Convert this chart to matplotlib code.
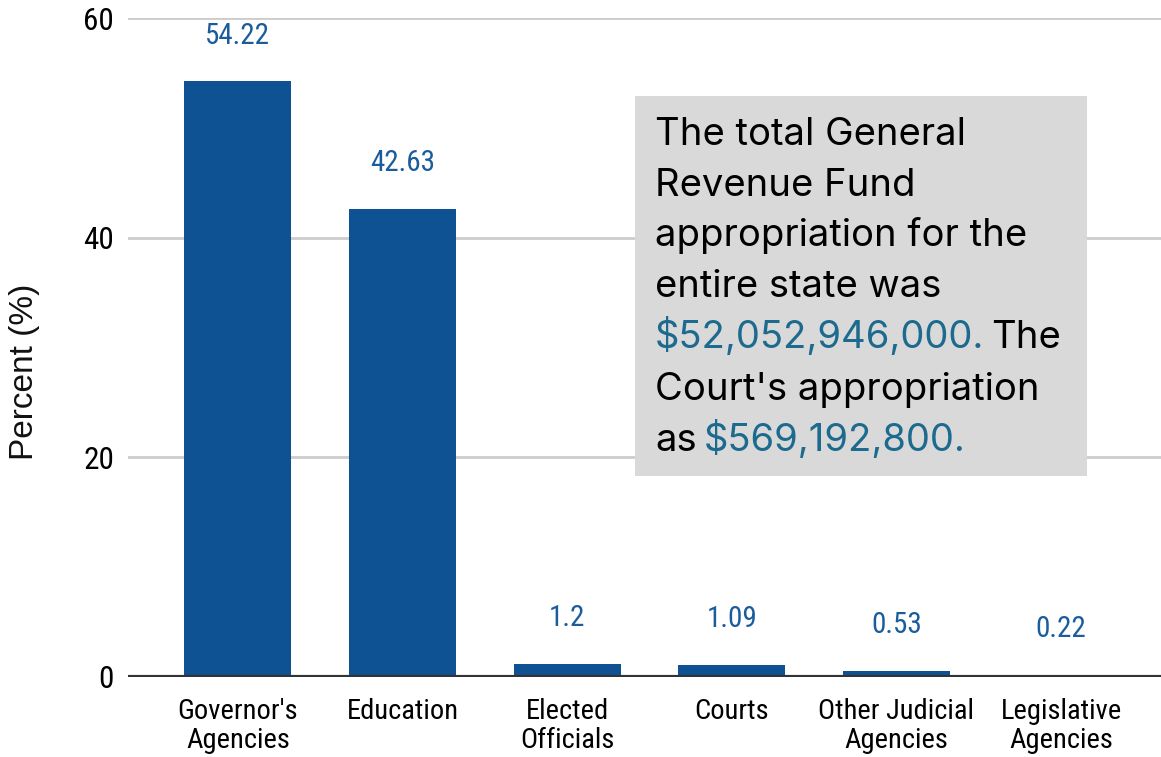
import matplotlib
matplotlib.use("Agg")
import matplotlib.pyplot as plt
from matplotlib.patches import Rectangle
from matplotlib import font_manager

categories = ["Governor's\nAgencies", "Education", "Elected\nOfficials", "Courts",
              "Other Judicial\nAgencies", "Legislative\nAgencies"]
values = [54.22, 42.63, 1.2, 1.09, 0.53, 0.22]
value_labels = ["54.22", "42.63", "1.2", "1.09", "0.53", "0.22"]
yticks = [0, 20, 40, 60]

names = {f.name for f in font_manager.fontManager.ttflist}
narrow = [n for n in ["Roboto Condensed", "Liberation Sans Narrow", "Arial Narrow"] if n in names] + ["Roboto"]
narrow = narrow[:1]

W, H = 1161, 757
fig = plt.figure(figsize=(W / 100, H / 100), dpi=100)
ax = fig.add_axes([128 / W, 1 - 677 / H, 1 - 128 / W, (677 - 18) / H])

bar_color = "#0e5293"
label_color = "#1a5c9c"
x = list(range(len(categories)))
ax.bar(x, values, width=0.65, color=bar_color, zorder=2)
for xi, v, s in zip(x, values, value_labels):
    ax.annotate(s, xy=(xi, v), xytext=(0, 23), textcoords="offset points",
                ha="center", va="bottom", color=label_color, fontsize=21,
                family=narrow)

ax.set_xlim(-0.668, 5.607)
ax.set_ylim(0, 60)
ax.set_yticks(yticks)
ax.set_yticklabels([str(t) for t in yticks], family=narrow, fontsize=22.5)
ax.set_xticks(x)
ax.set_xticklabels(categories, family=narrow, fontsize=20.5, linespacing=1.12)
ax.tick_params(axis="both", length=0)
ax.tick_params(axis="y", pad=10)
ax.tick_params(axis="x", pad=15)
for sp in ax.spines.values():
    sp.set_visible(False)
ax.grid(axis="y", color="#cccccc", linewidth=2, zorder=0)
ax.set_axisbelow(True)
ax.axhline(0, color="#333333", linewidth=3, zorder=3)

fig.text(25 / W, 1 - 372 / H, "Percent (%)", rotation=90, ha="center", va="center",
         family=["Liberation Sans"], fontsize=24, color="#111111")

# annotation box
fig.add_artist(Rectangle((635 / W, 1 - 476 / H), (1087 - 635) / W, (476 - 96) / H,
                         transform=fig.transFigure, facecolor="#d9d9d9",
                         edgecolor="none", zorder=5))

box_font = ["Inter", "DejaVu Sans"]
bfs = 27.5
blue = "#1c6a8e"
lines = [
    [("The total General", "black")],
    [("Revenue Fund", "black")],
    [("appropriation for the", "black")],
    [("entire state was", "black")],
    [("$52,052,946,000.", blue), ("The", "black")],
    [("Court's appropriation", "black")],
    [("as", "black"), ("$569,192,800.", blue)],
]
baselines = [145, 196, 246, 297, 348, 400, 451]
renderer = fig.canvas.get_renderer()
for segs, bl in zip(lines, baselines):
    xpx = 655
    for txt, col in segs:
        t = fig.text(xpx / W, 1 - bl / H, txt, ha="left", va="baseline",
                     family=box_font, fontsize=bfs, color=col, zorder=6)
        ext = t.get_window_extent(renderer)
        xpx = ext.x1 + 7

fig.savefig("out.png", dpi=100)
